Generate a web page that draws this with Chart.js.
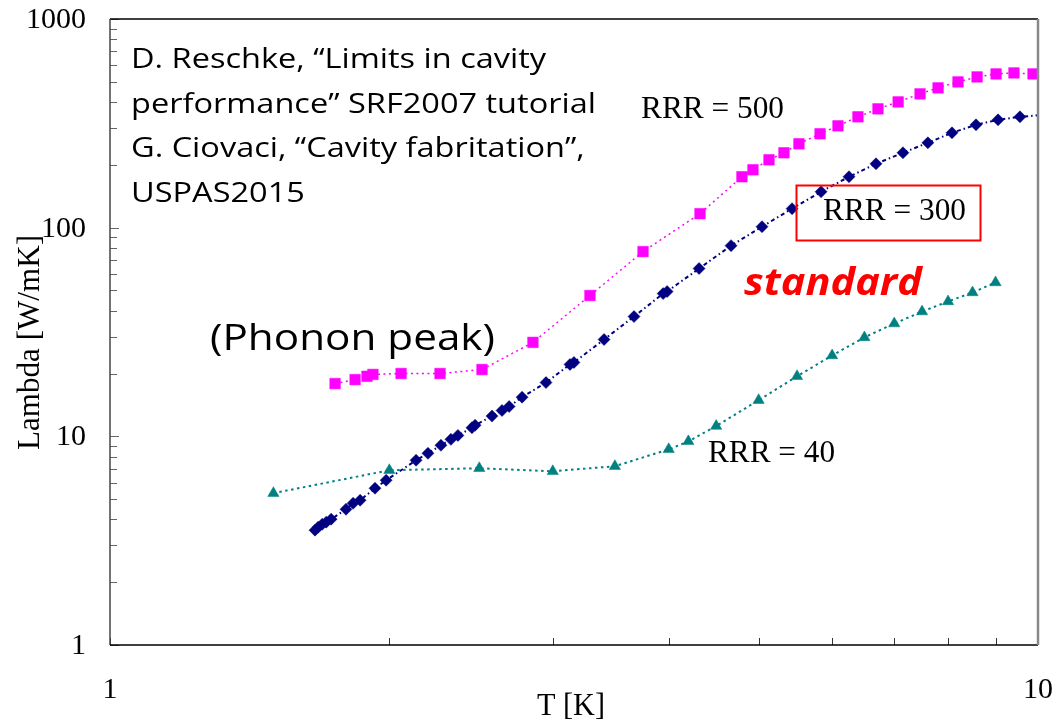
<!DOCTYPE html>
<html>
<head>
<meta charset="utf-8">
<script src="https://cdn.jsdelivr.net/npm/chart.js@4.4.1/dist/chart.umd.min.js"></script>
<style>
    body { margin: 0; background: #fff; }
    #box { width: 1056px; height: 724px; }
</style>
</head>
<body>
<div id="box"><canvas id="grafico"></canvas></div>
<script>
// RRR = 500 (magenta squares)
const t500 = [1.748, 1.837, 1.892, 1.920, 2.059, 2.268, 2.517, 2.856, 3.290, 3.753, 4.323,
    4.797, 4.930, 5.130, 5.324, 5.526, 5.823, 6.088, 6.397, 6.723, 7.068, 7.463, 7.804,
    8.200, 8.597, 9.012, 9.421, 9.877];
const lambda500 = [17.9, 18.7, 19.4, 19.8, 20.0, 20.0, 20.9, 28.2, 47.3, 76.8, 116.7,
    175.4, 189.4, 211.5, 228.5, 252.3, 281.8, 307.6, 339.8, 371.0, 400.6, 437.7, 467.7,
    499.5, 527.8, 545.5, 551.5, 545.5];

// RRR = 300 (navy diamonds)
const t300 = [1.663, 1.676, 1.693, 1.710, 1.731, 1.796, 1.828, 1.860, 1.930, 1.984, 2.137,
    2.201, 2.273, 2.330, 2.371, 2.455, 2.474, 2.580, 2.645, 2.692, 2.780, 2.950, 3.131,
    3.162, 3.407, 3.670, 3.945, 3.984, 4.313, 4.669, 5.042, 5.432, 5.838, 6.257, 6.690,
    7.153, 7.609, 8.078, 8.574, 9.056, 9.562, 10.2];
const lambda300 = [3.55, 3.67, 3.79, 3.88, 4.01, 4.47, 4.78, 4.94, 5.64, 6.16, 7.68,
    8.29, 9.06, 9.67, 10.1, 11.0, 11.3, 12.5, 13.3, 13.9, 15.4, 18.1, 22.1,
    22.6, 29.1, 37.5, 48.3, 49.4, 63.7, 82.0, 101.1, 123.3, 148.7, 175.4, 202.4,
    228.5, 255.1, 284.8, 311.1, 328.7, 339.8, 348];

// RRR = 40 (teal triangles)
const t40 = [1.5, 2.0, 2.5, 3.0, 3.5, 4.0, 4.2, 4.5, 5.0, 5.5, 6.0, 6.5, 7.0, 7.5, 8.0, 8.5, 9.0];
const lambda40 = [5.34, 6.88, 7.03, 6.80, 7.19, 8.66, 9.46, 11.2, 14.9, 19.4, 24.4, 29.8,
    34.7, 39.6, 44.3, 48.9, 54.6];

const xTicks = [1, 2, 3, 4, 5, 6, 7, 8, 9, 10];
const yTicks = [1, 2, 3, 4, 5, 6, 7, 8, 9, 10, 20, 30, 40, 50, 60, 70, 80, 90,
    100, 200, 300, 400, 500, 600, 700, 800, 900, 1000];

const serif = '"Liberation Serif", "Times New Roman", serif';

function pontos(xs, ys) {
    return xs.map((x, i) => ({ x: x, y: ys[i] }));
}

function isDecade(v) {
    return Math.abs(Math.log10(v) - Math.round(Math.log10(v))) < 1e-9;
}

// texto com largura ajustada (escala horizontal)
function textoAjustado(ctx, txt, x, y, largura) {
    const w = ctx.measureText(txt).width;
    const s = largura / w;
    ctx.save();
    ctx.translate(x, y);
    ctx.scale(s, 1);
    ctx.fillText(txt, 0, 0);
    ctx.restore();
}

const moldura = {
    id: "moldura",
    afterDatasetsDraw(chart) {
        const ctx = chart.ctx;
        const a = chart.chartArea;
        const xs = chart.scales.x;
        const ys = chart.scales.y;

        ctx.save();
        // ticks internos do eixo y
        ctx.strokeStyle = "#666";
        ctx.lineWidth = 1;
        yTicks.forEach(v => {
            const py = Math.round(ys.getPixelForValue(v)) + 0.5;
            const len = isDecade(v) ? 9 : 7;
            ctx.beginPath();
            ctx.moveTo(a.left, py);
            ctx.lineTo(a.left + len, py);
            ctx.stroke();
        });
        // ticks internos do eixo x
        ctx.strokeStyle = "#333";
        xTicks.forEach(v => {
            const px = Math.round(xs.getPixelForValue(v)) + 0.5;
            ctx.beginPath();
            ctx.moveTo(px, a.bottom);
            ctx.lineTo(px, a.bottom - 7);
            ctx.stroke();
        });

        // bordas
        ctx.lineWidth = 1.5;
        ctx.strokeStyle = "#000";
        ctx.beginPath();
        ctx.moveTo(a.right, a.top);
        ctx.lineTo(a.left, a.top);
        ctx.stroke();
        ctx.strokeStyle = "#444";
        ctx.beginPath();
        ctx.moveTo(a.left, a.top);
        ctx.lineTo(a.left, a.bottom);
        ctx.stroke();
        ctx.strokeStyle = "#000";
        ctx.beginPath();
        ctx.moveTo(a.left, a.bottom);
        ctx.lineTo(a.right, a.bottom);
        ctx.stroke();
        ctx.strokeStyle = "#888";
        ctx.lineWidth = 2.5;
        ctx.beginPath();
        ctx.moveTo(a.right, a.top);
        ctx.lineTo(a.right, a.bottom);
        ctx.stroke();

        // rotulos dos ticks (decadas)
        ctx.fillStyle = "#000";
        ctx.font = "30px " + serif;
        ctx.textBaseline = "middle";
        ctx.textAlign = "right";
        yTicks.filter(isDecade).forEach(v => {
            ctx.fillText(String(v), 86, ys.getPixelForValue(v) + 1);
        });
        ctx.textAlign = "center";
        [1, 10].forEach(v => {
            ctx.fillText(String(v), xs.getPixelForValue(v), 690);
        });

        // titulos dos eixos
        ctx.font = "31px " + serif;
        ctx.textBaseline = "alphabetic";
        ctx.textAlign = "left";
        textoAjustado(ctx, "T [K]", 537, 715, 68);
        ctx.save();
        ctx.translate(39, 450);
        ctx.rotate(-Math.PI / 2);
        textoAjustado(ctx, "Lambda [W/mK]", 0, 0, 215);
        ctx.restore();

        // rotulos das curvas
        textoAjustado(ctx, "RRR = 500", 641, 118, 143);
        textoAjustado(ctx, "RRR = 300", 823, 220, 143);
        textoAjustado(ctx, "RRR = 40", 708, 462, 127);

        ctx.strokeStyle = "#ff0000";
        ctx.lineWidth = 2;
        ctx.strokeRect(796.5, 185.5, 184, 55);

        // referencias
        ctx.font = '27px "Open Sans", "Noto Sans", sans-serif';
        const linhas = [
            "D. Reschke, \u201cLimits in cavity",
            "performance\u201d SRF2007 tutorial",
            "G. Ciovaci, \u201cCavity fabritation\u201d,",
            "USPAS2015"
        ];
        const escala = 465 / ctx.measureText(linhas[1]).width;
        linhas.forEach((l, i) => {
            const w = ctx.measureText(l).width * escala;
            textoAjustado(ctx, l, 131, 68 + i * 44.5, w);
        });

        ctx.font = '36px "Open Sans", "Noto Sans", sans-serif';
        textoAjustado(ctx, "(Phonon peak)", 210, 350, 285);

        ctx.fillStyle = "#ff0000";
        ctx.font = 'italic bold 38px "Open Sans", "Noto Sans", sans-serif';
        textoAjustado(ctx, "standard", 744, 295, 178);

        ctx.restore();
    }
};

new Chart(document.getElementById("grafico"), {
    type: "line",
    data: {
        datasets: [
            {
                label: "RRR = 40",
                data: pontos(t40, lambda40),
                borderColor: "#008080",
                backgroundColor: "#008080",
                borderWidth: 2,
                borderDash: [2.5, 3.5],
                pointStyle: "triangle",
                pointRadius: 6.5,
                pointBorderWidth: 0.5,
                tension: 0
            },
            {
                label: "RRR = 300",
                data: pontos(t300, lambda300),
                borderColor: "#000080",
                backgroundColor: "#000080",
                borderWidth: 2,
                borderDash: [4, 3, 1.5, 3],
                pointStyle: "rectRot",
                pointRadius: 6,
                pointBorderWidth: 0.5,
                tension: 0
            },
            {
                label: "RRR = 500",
                data: pontos(t500, lambda500),
                borderColor: "#ff00ff",
                backgroundColor: "#ff00ff",
                borderWidth: 1.5,
                borderDash: [2, 3.5],
                pointStyle: "rect",
                pointRadius: 7.5,
                pointBorderWidth: 0.5,
                tension: 0
            }
        ]
    },
    options: {
        responsive: true,
        maintainAspectRatio: false,
        animation: false,
        layout: { padding: { top: 19, right: 18, left: 0, bottom: 0 } },
        plugins: {
            legend: { display: false },
            tooltip: { enabled: false }
        },
        scales: {
            x: {
                type: "logarithmic",
                min: 1,
                max: 10,
                afterBuildTicks: s => { s.ticks = xTicks.map(v => ({ value: v })); },
                afterFit: s => { s.height = 79; },
                grid: { display: false, drawTicks: false },
                border: { display: false },
                ticks: { display: false }
            },
            y: {
                type: "logarithmic",
                min: 1,
                max: 1000,
                afterBuildTicks: s => { s.ticks = yTicks.map(v => ({ value: v })); },
                afterFit: s => { s.width = 110; },
                grid: { display: false, drawTicks: false },
                border: { display: false },
                ticks: { display: false }
            }
        }
    },
    plugins: [moldura]
});
</script>
</body>
</html>
